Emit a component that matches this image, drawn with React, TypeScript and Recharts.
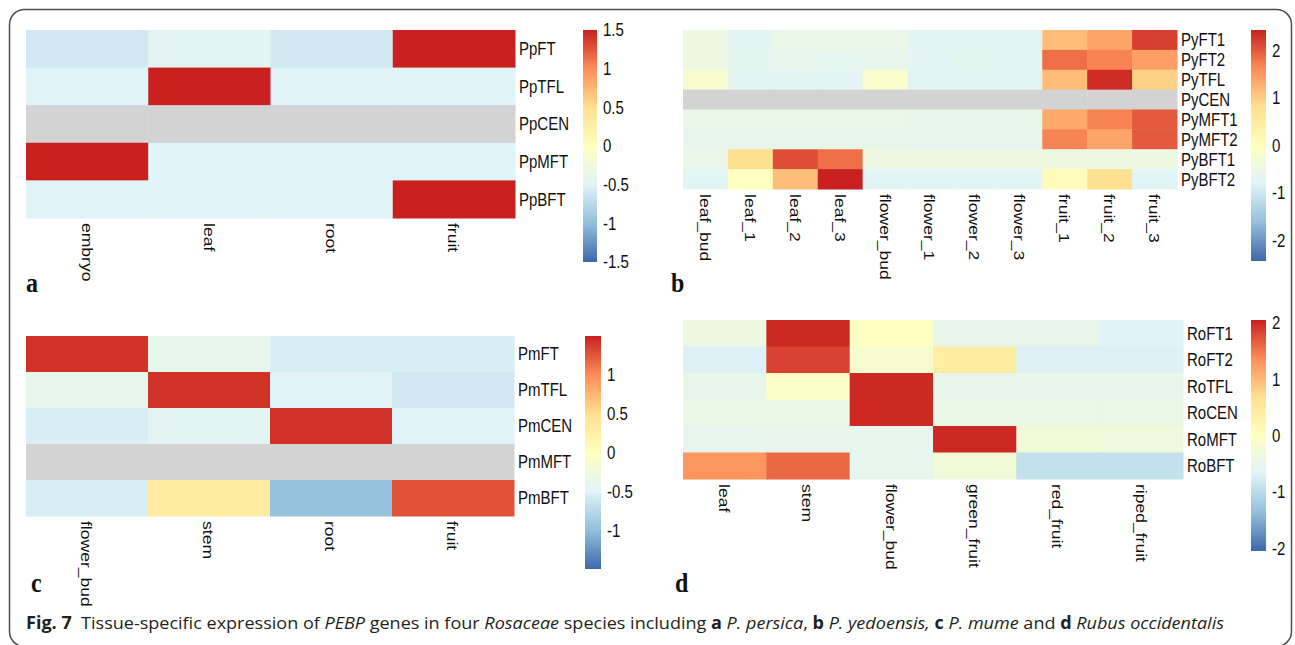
import React from "react";
import { ScatterChart, Scatter, XAxis, YAxis, BarChart, Bar } from "recharts";

// panel a – P. persica
const A_COLS = ["embryo", "leaf", "root", "fruit"];
const A_ROWS = ["PpFT", "PpTFL", "PpCEN", "PpMFT", "PpBFT"];
const A_VALUES: (number | null)[][] = [
  [-0.6, -0.45, -0.6, 1.5],
  [-0.5, 1.5, -0.5, -0.5],
  [null, null, null, null],
  [1.5, -0.5, -0.5, -0.5],
  [-0.5, -0.5, -0.5, 1.5],
];
const A_TICKS = [1.5, 1, 0.5, 0, -0.5, -1, -1.5];

// panel b – P. yedoensis
const B_COLS = [
  "leaf_bud", "leaf_1", "leaf_2", "leaf_3", "flower_bud", "flower_1",
  "flower_2", "flower_3", "fruit_1", "fruit_2", "fruit_3",
];
const B_ROWS = ["PyFT1", "PyFT2", "PyTFL", "PyCEN", "PyMFT1", "PyMFT2", "PyBFT1", "PyBFT2"];
const B_VALUES: (number | null)[][] = [
  [-0.5, -0.72, -0.58, -0.58, -0.58, -0.72, -0.72, -0.72, 1.15, 1.4, 2.2],
  [-0.5, -0.7, -0.62, -0.68, -0.62, -0.72, -0.7, -0.72, 1.85, 1.7, 1.45],
  [-0.2, -0.72, -0.72, -0.72, -0.15, -0.72, -0.72, -0.72, 1.15, 2.35, 0.95],
  [null, null, null, null, null, null, null, null, null, null, null],
  [-0.58, -0.58, -0.58, -0.58, -0.58, -0.62, -0.62, -0.62, 1.35, 1.7, 2.0],
  [-0.62, -0.62, -0.62, -0.62, -0.62, -0.65, -0.65, -0.65, 1.7, 1.4, 2.0],
  [-0.55, 0.8, 2.1, 1.85, -0.5, -0.5, -0.5, -0.5, -0.5, -0.5, -0.5],
  [-0.75, 0.0, 1.15, 2.43, -0.75, -0.75, -0.75, -0.75, 0.1, 0.8, -0.75],
];
const B_TICKS = [2, 1, 0, -1, -2];

// panel c – P. mume
const C_COLS = ["flower_bud", "stem", "root", "fruit"];
const C_ROWS = ["PmFT", "PmTFL", "PmCEN", "PmMFT", "PmBFT"];
const C_VALUES: (number | null)[][] = [
  [1.42, -0.38, -0.55, -0.55],
  [-0.38, 1.42, -0.48, -0.6],
  [-0.55, -0.45, 1.42, -0.5],
  [null, null, null, null],
  [-0.55, 0.3, -0.97, 1.27],
];
const C_TICKS = [1, 0.5, 0, -0.5, -1];

// panel d – Rubus occidentalis
const D_COLS = ["leaf", "stem", "flower_bud", "green_fruit", "red_fruit", "riped_fruit"];
const D_ROWS = ["RoFT1", "RoFT2", "RoTFL", "RoCEN", "RoMFT", "RoBFT"];
const D_VALUES: (number | null)[][] = [
  [-0.4, 2.0, 0.0, -0.5, -0.5, -0.7],
  [-0.72, 1.85, -0.2, 0.42, -0.72, -0.72],
  [-0.5, -0.08, 2.0, -0.5, -0.5, -0.5],
  [-0.45, -0.45, 2.0, -0.45, -0.45, -0.45],
  [-0.55, -0.5, -0.55, 2.0, -0.3, -0.35],
  [1.3, 1.6, -0.55, -0.3, -0.93, -0.93],
];
const D_TICKS = [2, 1, 0, -1, -2];

const STOPS = ["#3D68AD", "#91BFDB", "#E0F3F8", "#FFFFBF", "#FEE090", "#FC8D59", "#C9211F"];
const NA_COLOR = "#D3D3D3";
const SANS = "'Liberation Sans', Arial, Helvetica, sans-serif";
const STRETCH = 1.17; // the figure is a bit taller than wide

function hexToRgb(h: string) {
  const n = parseInt(h.slice(1), 16);
  return [(n >> 16) & 255, (n >> 8) & 255, n & 255];
}

function heatColor(v: number | null, lo: number, hi: number) {
  if (v == null) return NA_COLOR;
  const t = Math.min(1, Math.max(0, (v - lo) / (hi - lo))) * (STOPS.length - 1);
  const i = Math.min(STOPS.length - 2, Math.floor(t));
  const f = t - i;
  const a = hexToRgb(STOPS[i]);
  const b = hexToRgb(STOPS[i + 1]);
  const c = a.map((x, k) => Math.round(x + (b[k] - x) * f));
  return `rgb(${c[0]},${c[1]},${c[2]})`;
}

function cellsOf(rows: string[], cols: string[], values: (number | null)[][]) {
  const out: { x: number; y: number; v: number | null }[] = [];
  rows.forEach((_, i) => cols.forEach((__, j) => out.push({ x: j, y: i, v: values[i][j] })));
  return out;
}

function HorizLabel({ x, y, text }: { x: number; y: number; text: string }) {
  return (
    <text
      transform={`translate(${x},${y}) scale(1,${STRETCH})`}
      fontSize={15}
      fontFamily={SANS}
      fill="#111"
      dominantBaseline="central"
    >
      {text}
    </text>
  );
}

const PANELS = [
  { id: "a", cols: A_COLS, rows: A_ROWS, values: A_VALUES, lo: -1.5, hi: 1.5, ticks: A_TICKS,
    plot: [26, 30, 489, 188], bar: [583, 30, 14, 232] },
  { id: "b", cols: B_COLS, rows: B_ROWS, values: B_VALUES, lo: -2.43, hi: 2.43, ticks: B_TICKS,
    plot: [683, 30, 494, 159], bar: [1251, 30, 15, 231] },
  { id: "c", cols: C_COLS, rows: C_ROWS, values: C_VALUES, lo: -1.5, hi: 1.5, ticks: C_TICKS,
    plot: [26, 336, 488, 180], bar: [585, 336, 16, 233] },
  { id: "d", cols: D_COLS, rows: D_ROWS, values: D_VALUES, lo: -2.05, hi: 2.05, ticks: D_TICKS,
    plot: [683, 320, 500, 159], bar: [1251, 320, 15, 231] },
];

const LETTERS = [
  { t: "a", x: 26, y: 292 },
  { t: "b", x: 671, y: 292 },
  { t: "c", x: 31, y: 592 },
  { t: "d", x: 675, y: 592 },
];

type Panel = (typeof PANELS)[number];

function Heatmap({ p }: { p: Panel }) {
  const [x0, y0, pw, ph] = p.plot;
  const cw = pw / p.cols.length;
  const ch = ph / p.rows.length;
  const data = cellsOf(p.rows, p.cols, p.values);
  return (
    <div style={{ position: "absolute", left: x0, top: y0 }}>
      <ScatterChart width={pw + 100} height={ph + 110} margin={{ top: 0, right: 0, bottom: 0, left: 0 }}>
        <XAxis
          type="number"
          dataKey="x"
          scale="linear"
          domain={[-0.5, p.cols.length - 0.5]}
          ticks={p.cols.map((_, i) => i)}
          interval={0}
          height={110}
          axisLine={false}
          tickLine={false}
          tickSize={0}
          tickMargin={5}
          tick={(t: any) => (
            <text
              transform={`translate(${t.x},${t.y}) scale(1,${STRETCH}) rotate(90)`}
              fontSize={15}
              fontFamily={SANS}
              fill="#111"
              dominantBaseline="central"
            >
              {p.cols[t.payload.value]}
            </text>
          )}
        />
        <YAxis
          type="number"
          dataKey="y"
          scale="linear"
          orientation="right"
          reversed
          domain={[-0.5, p.rows.length - 0.5]}
          ticks={p.rows.map((_, i) => i)}
          interval={0}
          width={100}
          axisLine={false}
          tickLine={false}
          tickSize={0}
          tickMargin={4}
          tick={(t: any) => <HorizLabel x={t.x} y={t.y} text={p.rows[t.payload.value]} />}
        />
        <Scatter
          data={data}
          isAnimationActive={false}
          shape={(s: any) => (
            <rect
              x={s.cx - cw / 2}
              y={s.cy - ch / 2}
              width={cw + 0.5}
              height={ch + 0.5}
              fill={heatColor(s.payload.v, p.lo, p.hi)}
            />
          )}
        />
      </ScatterChart>
    </div>
  );
}

// room above and below the bar so the end labels are not clipped
const PAD = 12;

function ColorBar({ p }: { p: Panel }) {
  const [bx, by, bw, bh] = p.bar;
  const gid = `grad-${p.id}`;
  return (
    <div style={{ position: "absolute", left: bx, top: by - PAD }}>
      <BarChart
        width={bw + 40}
        height={bh + 2 * PAD}
        data={[{ k: "scale", r: [p.lo, p.hi] }]}
        margin={{ top: PAD, right: 0, bottom: PAD, left: 0 }}
        barCategoryGap={0}
        barGap={0}
      >
        <defs>
          <linearGradient id={gid} x1="0" y1="0" x2="0" y2="1">
            {STOPS.slice().reverse().map((c, i) => (
              <stop key={i} offset={i / (STOPS.length - 1)} stopColor={c} />
            ))}
          </linearGradient>
        </defs>
        <XAxis type="category" dataKey="k" hide />
        <YAxis
          type="number"
          orientation="right"
          domain={[p.lo, p.hi]}
          ticks={p.ticks}
          interval={0}
          width={40}
          axisLine={false}
          tickLine={false}
          tickSize={0}
          tickMargin={6}
          tick={(t: any) => <HorizLabel x={t.x} y={t.y} text={String(t.payload.value)} />}
        />
        <Bar dataKey="r" fill={`url(#${gid})`} isAnimationActive={false} />
      </BarChart>
    </div>
  );
}

export default function App() {
  return (
    <div
      style={{
        position: "absolute",
        left: 0,
        top: 0,
        width: 1295,
        height: 645,
        background: "#fff",
        overflow: "hidden",
      }}
    >
      <svg width={1295} height={645} style={{ position: "absolute", left: 0, top: 0 }}>
        <rect x={9.5} y={9.5} width={1282} height={637} rx={15} fill="none" stroke="#4d4d4d" strokeWidth={1.5} />
        {LETTERS.map((l) => (
          <text
            key={l.t}
            transform={`translate(${l.x},${l.y}) scale(1,${STRETCH})`}
            fontFamily="'Liberation Serif', 'Times New Roman', serif"
            fontWeight="bold"
            fontSize={24}
            fill="#111"
          >
            {l.t}
          </text>
        ))}
        <text
          x={26}
          y={629}
          fontFamily="'Open Sans', 'Noto Sans', sans-serif"
          fontSize={17}
          fill="#231F20"
          textLength={1198}
          lengthAdjust="spacingAndGlyphs"
          style={{ whiteSpace: "pre" }}
        >
          <tspan fontWeight="bold">Fig. 7</tspan>
          <tspan>{"  Tissue-specific expression of "}</tspan>
          <tspan fontStyle="italic">PEBP</tspan>
          <tspan>{" genes in four "}</tspan>
          <tspan fontStyle="italic">Rosaceae</tspan>
          <tspan>{" species including "}</tspan>
          <tspan fontWeight="bold">a</tspan>
          <tspan fontStyle="italic">{" P. persica"}</tspan>
          <tspan>{", "}</tspan>
          <tspan fontWeight="bold">b</tspan>
          <tspan fontStyle="italic">{" P. yedoensis,"}</tspan>
          <tspan>{" "}</tspan>
          <tspan fontWeight="bold">c</tspan>
          <tspan fontStyle="italic">{" P. mume"}</tspan>
          <tspan>{" and "}</tspan>
          <tspan fontWeight="bold">d</tspan>
          <tspan fontStyle="italic">{" Rubus occidentalis"}</tspan>
        </text>
      </svg>
      {PANELS.map((p) => (
        <React.Fragment key={p.id}>
          <Heatmap p={p} />
          <ColorBar p={p} />
        </React.Fragment>
      ))}
    </div>
  );
}
